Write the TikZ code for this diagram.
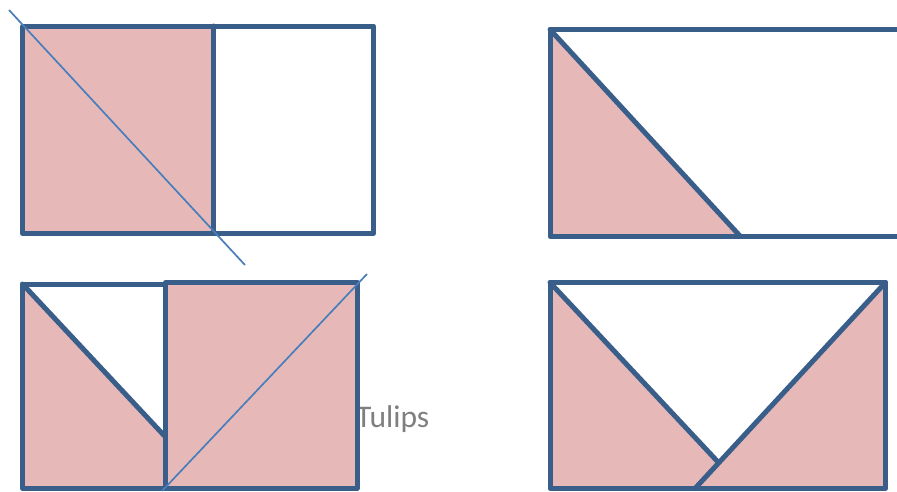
\documentclass[tikz,border=0pt]{standalone}
\usepackage{fontspec}
\setmainfont{Carlito}
\definecolor{edgeblue}{HTML}{395E8A}
\definecolor{pinkfill}{HTML}{E6B9B8}
\definecolor{thinblue}{HTML}{4A7EBB}
\definecolor{textgray}{HTML}{7F7F7F}
\tikzset{
  thick edge/.style={draw=edgeblue, line width=5pt, line join=round, line cap=round},
  pink area/.style={fill=pinkfill},
  thin guide/.style={draw=thinblue, line width=1.7pt},
  label text/.style={text=textgray, font=\fontsize{31.5}{37}\selectfont, inner sep=0pt}
}
\begin{document}
\begin{tikzpicture}[x=1pt,y=-1pt]
\useasboundingbox (0,0) rectangle (897,491);
\clip (0,0) rectangle (897,491);
% label
\node[label text, anchor=base west] (tulips) at (356,427.5) {Tulips};
% ---- top left
\fill[pink area] (22.5,26) rectangle (213.5,233.5);
\draw[thick edge] (22.5,26) rectangle (373.5,233.5);
\draw[thick edge] (213.5,26) -- (213.5,233.5);
% ---- top right
\fill[pink area] (550,29.5) -- (740.5,236.5) -- (550,236.5) -- cycle;
\draw[thick edge] (905,29.5) -- (550,29.5) -- (550,236.5) -- (905,236.5);
\draw[thick edge] (550,29.5) -- (740.5,236.5);
% ---- bottom left
\fill[pink area] (22.5,284) -- (165.5,437) -- (165.5,488.5) -- (22.5,488.5) -- cycle;
\fill[pink area] (165.5,282.5) rectangle (357,488.5);
\draw[thick edge] (22.5,284) rectangle (165.5,488.5);
\draw[thick edge] (165.5,282.5) rectangle (357,488.5);
\draw[thick edge] (22.5,284) -- (165.5,437);
% ---- bottom right
\fill[pink area] (550,282.5) -- (718,462) -- (695,488.5) -- (550,488.5) -- cycle;
\fill[pink area] (885.5,282.5) -- (695,488.5) -- (885.5,488.5) -- cycle;
\draw[thick edge] (550,282.5) rectangle (885.5,488.5);
\draw[thick edge] (550,282.5) -- (718,462);
\draw[thick edge] (885.5,282.5) -- (695,488.5);
% ---- thin guide lines
\draw[thin guide] (9,10) -- (245,265);
\draw[thin guide] (162,491) -- (367,274);
\end{tikzpicture}
\end{document}
